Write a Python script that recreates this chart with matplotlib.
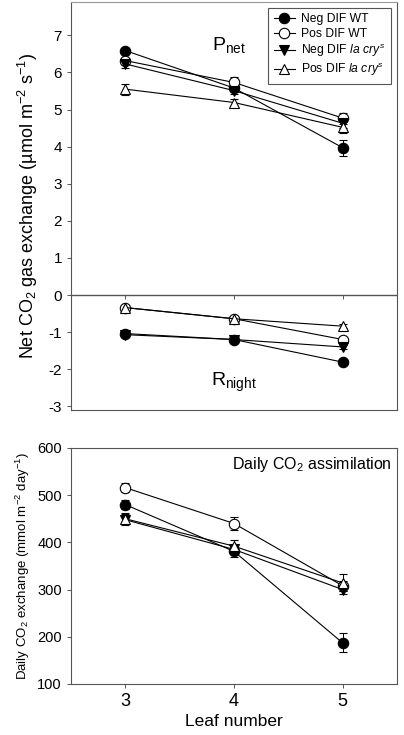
import numpy as np
import matplotlib
matplotlib.use('Agg')
import matplotlib.pyplot as plt
from matplotlib.lines import Line2D

plt.rcParams['font.family'] = ['Liberation Sans', 'DejaVu Sans']
plt.rcParams['mathtext.fontset'] = 'custom'
plt.rcParams['mathtext.rm'] = 'Liberation Sans'
plt.rcParams['mathtext.it'] = 'Liberation Sans:italic'
plt.rcParams['axes.unicode_minus'] = False

leaf = [3, 4, 5]

# net photosynthesis (Pnet), umol m-2 s-1
pnet_neg_wt = [6.59, 5.58, 3.97]
pnet_pos_wt = [6.32, 5.73, 4.77]
pnet_neg_la = [6.23, 5.51, 4.63]
pnet_pos_la = [5.55, 5.19, 4.52]
pnet_err_neg_wt = [0.08, 0.10, 0.22]
pnet_err_pos_wt = [0.08, 0.14, 0.15]
pnet_err_neg_la = [0.10, 0.10, 0.12]
pnet_err_pos_la = [0.15, 0.10, 0.15]

# night respiration (Rnight)
rn_neg_wt = [-1.04, -1.20, -1.81]
rn_pos_wt = [-0.34, -0.64, -1.20]
rn_neg_la = [-1.07, -1.20, -1.40]
rn_pos_la = [-0.34, -0.64, -0.84]
rn_err = [0.05, 0.05, 0.05]

# daily CO2 assimilation, mmol m-2 day-1
daily_neg_wt = [480, 381, 187]
daily_pos_wt = [516, 440, 308]
daily_neg_la = [448, 385, 300]
daily_pos_la = [450, 392, 314]
daily_err_neg_wt = [10, 12, 20]
daily_err_pos_wt = [10, 14, 10]
daily_err_neg_la = [12, 8, 10]
daily_err_pos_la = [12, 12, 18]

labels = ['Neg DIF WT', 'Pos DIF WT',
          r'Neg DIF $\mathit{la\ cry^s}$', r'Pos DIF $\mathit{la\ cry^s}$']
styles = [dict(marker='o', mfc='black'), dict(marker='o', mfc='white'),
          dict(marker='v', mfc='black'), dict(marker='^', mfc='white')]
spine_col = '#555555'


def series(ax, y, err, st):
    ax.errorbar(leaf, y, yerr=err, color='black', lw=0.8, elinewidth=0.7,
                capsize=3, capthick=0.7, ms=7.5, mec='black', mew=0.8, **st)


fig = plt.figure(figsize=(4.04, 7.35), dpi=100)

# top panel
ax1 = fig.add_axes([0.1757, 0.4422, 0.807, 0.5551])
ylo, yhi = -3.1, 7.9
pnet = [(pnet_neg_wt, pnet_err_neg_wt), (pnet_pos_wt, pnet_err_pos_wt),
        (pnet_neg_la, pnet_err_neg_la), (pnet_pos_la, pnet_err_pos_la)]
rn = [rn_neg_wt, rn_pos_wt, rn_neg_la, rn_pos_la]
for (y, e), st in zip(pnet, styles):
    series(ax1, y, e, st)
for y, st in zip(rn, styles):
    series(ax1, y, rn_err, st)
ax1.set_xlim(2.5, 5.5)
ax1.set_ylim(ylo, yhi)
ax1.set_yticks(range(-3, 8))
ax1.set_xticks([])
ax1.axhline(0, color=spine_col, lw=1)
sec = ax1.secondary_xaxis((0 - ylo) / (yhi - ylo))
sec.set_xticks(leaf)
sec.tick_params(direction='out', length=3, width=0.7, color=spine_col, labelbottom=False)
sec.spines['bottom'].set_visible(False)
ax1.tick_params(axis='y', direction='out', length=3, width=0.7, color=spine_col, labelsize=11)
for s in ax1.spines.values():
    s.set_color(spine_col)
ax1.spines['top'].set_color('#999999')
ax1.set_ylabel(r'Net CO$_2$ gas exchange (µmol m$^{-2}$ s$^{-1}$)', fontsize=13, labelpad=6)
ax1.text(3.95, 6.75, r'P$_{\mathrm{net}}$', fontsize=14, ha='center', va='center')
ax1.text(4.0, -2.35, r'R$_{\mathrm{night}}$', fontsize=14, ha='center', va='center')
handles = [Line2D([], [], color='black', lw=0.8, ms=7.5, mec='black', mew=0.8, **st)
           for st in styles]
leg = ax1.legend(handles, labels, loc='upper right', fontsize=8.7, frameon=True, fancybox=False,
                 edgecolor=spine_col, framealpha=1, handlelength=1.8,
                 borderaxespad=0.5, labelspacing=0.2, handletextpad=0.5, borderpad=0.45)
leg.get_frame().set_linewidth(0.8)

# bottom panel
ax2 = fig.add_axes([0.1757, 0.0694, 0.807, 0.3211])
daily = [(daily_neg_wt, daily_err_neg_wt), (daily_pos_wt, daily_err_pos_wt),
         (daily_neg_la, daily_err_neg_la), (daily_pos_la, daily_err_pos_la)]
for (y, e), st in zip(daily, styles):
    series(ax2, y, e, st)
ax2.set_xlim(2.5, 5.5)
ax2.set_ylim(100, 600)
ax2.set_xticks(leaf)
ax2.set_yticks(range(100, 700, 100))
ax2.tick_params(axis='x', direction='out', length=3, width=0.7, color=spine_col, labelsize=13)
ax2.tick_params(axis='y', direction='out', length=3, width=0.7, color=spine_col, labelsize=10.5)
for s in ax2.spines.values():
    s.set_color(spine_col)
ax2.set_ylabel(r'Daily CO$_2$ exchange (mmol m$^{-2}$ day$^{-1}$)', fontsize=9.5, labelpad=4)
ax2.set_xlabel('Leaf number', fontsize=12.5, labelpad=3)
ax2.text(5.45, 565, r'Daily CO$_2$ assimilation', fontsize=11.5, ha='right', va='center')

fig.savefig('out.png', dpi=100)
